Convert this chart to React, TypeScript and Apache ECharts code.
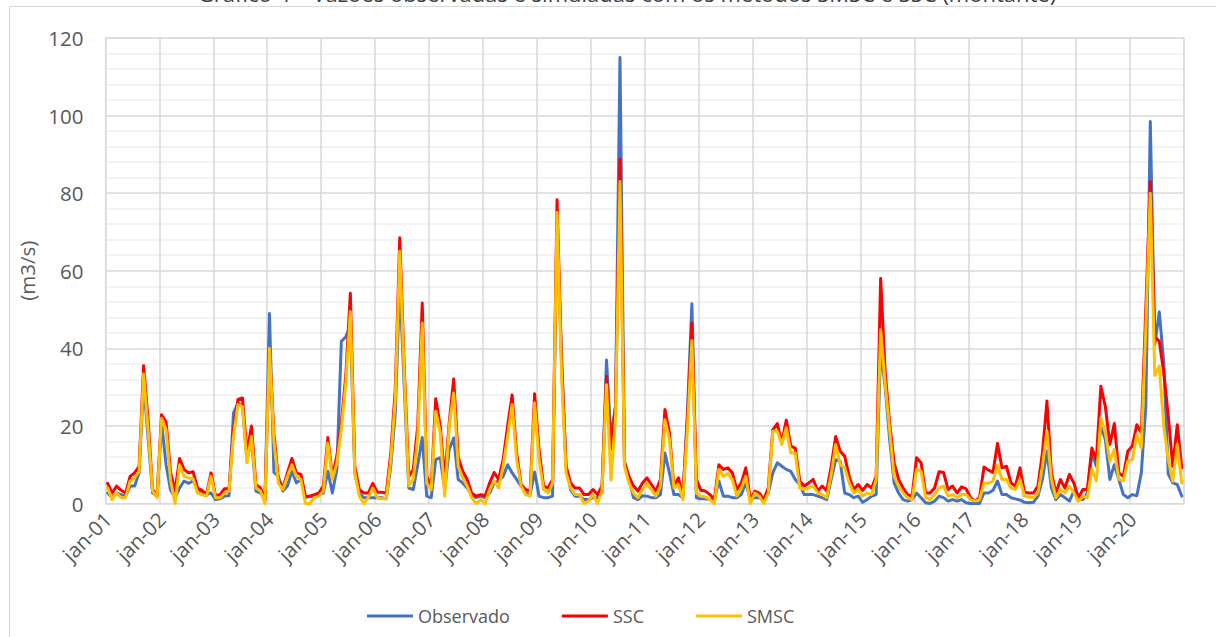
import React, { useEffect, useRef } from "react";
import * as echarts from "echarts";

// Monthly flows, Jan 2001 – Dec 2020 (m3/s)
const monthNames = ["jan", "fev", "mar", "abr", "mai", "jun", "jul", "ago", "set", "out", "nov", "dez"];
const years = Array.from({ length: 20 }, (_, k) => String(k + 1).padStart(2, "0"));
const months: string[] = [];
years.forEach((y) => monthNames.forEach((m) => months.push(`${m}-${y}`)));

const observado = [
  2.7, 1.5, 2.7, 2.3, 1.9, 4.5, 4.5, 7.9, 31, 17, 2.7, 1.9,
  20.8, 10, 3.5, 1.5, 4, 5.8, 5.2, 5.8, 4, 2.7, 2.3, 2.7,
  1, 1.2, 1.9, 2, 23.3, 25.9, 25, 11.3, 16.5, 3.2, 2.7, 1,
  49, 8, 7, 3.2, 4.5, 8.3, 5.3, 6.2, 1.5, 1.9, 1.9, 2.3,
  2.7, 8.3, 2.7, 8.8, 41.8, 43, 46, 7.9, 2.7, 1.5, 1.5, 1.5,
  1.5, 1.5, 1.2, 9.6, 23.3, 57, 30, 4, 3.6, 10, 17, 1.9,
  1.5, 11.3, 11.8, 3.6, 13.9, 16.9, 6.2, 5.3, 4, 2.3, 1.5, 1.9,
  1.5, 2.7, 5.3, 5.8, 7, 10, 7.9, 6.2, 4.5, 2.7, 2.3, 8.1,
  1.9, 1.5, 1.5, 1.9, 72, 38, 9.6, 3.6, 1.9, 1.9, 1, 1,
  1.5, 1.5, 2.7, 37, 17, 25, 115, 10.9, 6.2, 1.5, 1, 2,
  1.9, 1.5, 1.5, 2.3, 13, 7.9, 2.3, 2.3, 1.5, 23.3, 51.5, 1.5,
  1.2, 1.2, 1, 1, 5.8, 1.9, 1.9, 1.5, 1.5, 2.3, 5.3, 1,
  1.5, 1.5, 0.6, 2.7, 7.9, 10.5, 9.6, 8.8, 8.3, 6.2, 4.9, 2.3,
  2.3, 2.3, 1.9, 1.5, 1, 6.2, 11.3, 10.9, 2.7, 2.3, 1.5, 1.9,
  0.3, 1, 1.9, 2.3, 40, 30, 16.5, 5.3, 2.7, 1, 0.6, 1,
  2.7, 1.5, 0.2, 0, 0.6, 1.9, 1.5, 0.6, 1, 0.6, 1, 0.2,
  0, 0, 0, 2.7, 2.7, 3.4, 5.8, 2.3, 2.3, 1.5, 1.2, 0.9,
  0.3, 0.2, 0.3, 1.9, 6.2, 13.5, 4, 1, 2.3, 1.5, 0.6, 3.2,
  1, 1, 2.7, 13, 9.6, 20, 16.5, 6.2, 10, 6.2, 2.3, 1.5,
  2.3, 2, 7.9, 25, 98.5, 41, 49.4, 36.3, 7.6, 5.3, 4.9, 1.9,
];

const ssc = [
  5.2, 2.7, 4.5, 3.4, 2.7, 7, 7.9, 9.6, 35.5, 21.6, 3.6, 1.9,
  22.9, 21, 8, 3.2, 11.6, 8.8, 7.9, 8.2, 4, 3.4, 2.3, 7.9,
  2, 2.3, 3.8, 3.8, 19, 26.8, 27.2, 13, 20, 4.9, 4, 1,
  40, 18, 6.2, 4, 7.9, 11.6, 7.9, 7.5, 1.9, 1.9, 2.3, 2.7,
  4.5, 17, 7, 12.2, 20.8, 33, 54.2, 9.6, 3.6, 2.7, 2.7, 5.2,
  2.9, 2.9, 2.7, 13, 29.4, 68.5, 35, 7, 8.8, 20, 51.7, 7,
  4.5, 27, 20, 6.2, 20.8, 32.1, 12, 8.3, 6.2, 2.7, 1.9, 2.3,
  2, 5.3, 8, 6.2, 11.3, 20, 28, 13, 4.9, 3.6, 3.2, 28.3,
  13.9, 4.5, 4, 6.2, 78.3, 36, 9.6, 5.3, 4, 4, 2.3, 2.3,
  3.6, 2.3, 4.5, 32.8, 14, 25, 88.8, 10.5, 7, 4.5, 3.2, 5.3,
  6.6, 4.9, 3.2, 6.2, 24.2, 18.2, 4.5, 6.6, 1.9, 21.6, 46.5, 6.2,
  3.4, 3.2, 2.3, 1, 10, 8.8, 9.2, 7.9, 3.6, 5.3, 9.2, 1,
  3.2, 2.7, 1, 4, 19, 20.6, 15.6, 21.5, 14.8, 14.3, 5.8, 4.5,
  5.3, 6.2, 3.2, 4.5, 3.2, 9.6, 17.3, 13.5, 12.2, 7, 3.6, 4.9,
  3.4, 4.9, 4, 7, 58, 34, 20.8, 10.5, 6.2, 4, 2.3, 1.9,
  11.8, 10.5, 2.7, 2.7, 4, 8.2, 8, 3.6, 4.5, 2.7, 4.3, 3.8,
  1.5, 0.6, 1.5, 9.4, 8.6, 8, 15.5, 9.2, 9.6, 5.3, 4.5, 9.2,
  2.9, 2.7, 2.7, 4.5, 13, 26.4, 7.9, 2.7, 6.2, 4, 7.5, 5.3,
  1.5, 3.6, 3.6, 14.3, 11.3, 30.2, 25, 15.2, 20.6, 7.9, 7, 13.5,
  14.8, 20.3, 18.2, 50, 83, 43, 41.8, 33.7, 22.5, 9.6, 20.3, 9.2,
];

const smsc = [
  4, 1, 2.7, 1.5, 1.5, 5.8, 6.6, 8.3, 33.4, 19, 3.2, 1.5,
  22, 19, 6, 0, 10, 7, 6.6, 6.4, 2.7, 2.3, 1.9, 7,
  1.5, 1.5, 2.7, 3.2, 17.3, 25.5, 25, 10.5, 17.3, 4, 3.2, 0,
  40, 16, 5.2, 3.6, 7, 10, 7, 6.2, 0, 0, 1.5, 1.9,
  3.2, 15.6, 6.2, 10.5, 19, 31, 49.5, 7.9, 1.9, 0, 1.5, 4,
  1.5, 1.2, 1.2, 11.3, 26.8, 65, 33, 4.5, 6.2, 17, 46.5, 5.3,
  3.6, 23.8, 18.2, 1.9, 20, 28.5, 9.6, 6.6, 4.5, 1.5, 0, 1,
  0, 3.6, 5.8, 4, 9.6, 17.3, 25.5, 11.3, 4.5, 2.3, 1.9, 25.9,
  11.3, 3.6, 2.7, 5.3, 75, 33, 7.9, 4, 2.3, 2.3, 0, 0.6,
  2.3, 0, 3.2, 30.6, 6, 22, 83, 9.6, 5.3, 2.7, 1.5, 3.6,
  5.2, 3.6, 1.9, 4.5, 21.6, 16.5, 4, 4.9, 1, 19, 42, 2.7,
  1.9, 1.7, 1, 0, 8.8, 7, 7.7, 6.2, 1.9, 4, 7, 0,
  2.7, 1.9, 0, 2.7, 18.6, 18.6, 15.2, 19.5, 13, 13, 4, 3.6,
  4, 4.5, 2.7, 2.3, 1.5, 7.5, 15.2, 10, 9.2, 5.3, 2.7, 3.6,
  1.9, 2.7, 2.3, 6.2, 44.8, 31, 19, 7, 4.5, 2.7, 1.5, 1,
  8.8, 8.3, 1.5, 1, 2.3, 4, 4.5, 1.9, 2.3, 1.5, 2.3, 2.3,
  1, 0.6, 1, 5.3, 5.2, 5.8, 10, 6.2, 6.2, 4, 3.6, 6.2,
  1.9, 1.7, 1.5, 2.7, 9.6, 18.6, 6.2, 1.5, 3.6, 2.7, 4.5, 2.7,
  0.6, 1.9, 1.5, 8.8, 5.8, 22, 18.2, 10.9, 13.9, 6.2, 5.8, 10.9,
  11.3, 17.8, 14.3, 45, 80, 33, 35.4, 19.9, 11.3, 5.7, 15.2, 5.3,
];

const yTicks = { min: 0, max: 120, step: 20 };
const seriesNames = ["Observado", "SSC", "SMSC"];
const seriesColors = ["#4472C4", "#FF0000", "#FFC000"];
const chartTitle = "Gráfico 4 – Vazões observadas e simuladas com os métodos SMSC e SSC (montante)";

const FONT = '"Open Sans", sans-serif';

export default function App() {
  const ref = useRef<HTMLDivElement>(null);

  useEffect(() => {
    if (!ref.current) return;
    const chart = echarts.init(ref.current, undefined, { renderer: "svg" });
    const everyYear = (i: number) => i % 12 === 0;

    chart.setOption({
      animation: false,
      backgroundColor: "#ffffff",
      textStyle: { fontFamily: FONT },
      graphic: [
        {
          type: "rect",
          silent: true,
          z: -10,
          shape: { x: 9.5, y: 6.5, width: 1300, height: 700 },
          style: { fill: "none", stroke: "#d9d9d9", lineWidth: 1 },
        },
        {
          // caption sits above the chart frame, its upper part running off the page
          type: "text",
          silent: true,
          x: 627,
          y: 4,
          style: {
            text: chartTitle,
            fontFamily: FONT,
            fontSize: 22,
            fill: "#404040",
            align: "center",
            verticalAlign: "bottom",
          },
        },
      ],
      grid: {
        left: 105.4,
        right: 32,
        top: 38,
        bottom: 133.5,
        show: true,
        borderColor: "#d9d9d9",
        borderWidth: 1,
      },
      legend: {
        left: 362,
        top: 602,
        icon: "rect",
        itemWidth: 46,
        itemHeight: 3,
        itemGap: 52,
        textStyle: { fontFamily: FONT, fontSize: 18, color: "#595959" },
        data: seriesNames,
      },
      xAxis: {
        type: "category",
        data: months,
        boundaryGap: true,
        axisLine: { show: true, lineStyle: { color: "#d9d9d9", width: 1 } },
        axisTick: { show: false },
        axisLabel: {
          interval: everyYear,
          rotate: 45,
          margin: 12,
          fontFamily: FONT,
          fontSize: 20.5,
          color: "#595959",
        },
        splitLine: {
          show: true,
          interval: everyYear,
          lineStyle: { color: "#d9d9d9", width: 1.5 },
        },
      },
      yAxis: {
        type: "value",
        min: yTicks.min,
        max: yTicks.max,
        interval: yTicks.step,
        name: "(m3/s)",
        nameLocation: "middle",
        nameGap: 58,
        nameTextStyle: { fontFamily: FONT, fontSize: 20.5, color: "#595959" },
        axisLine: { show: false },
        axisTick: { show: false },
        axisLabel: { margin: 22, fontFamily: FONT, fontSize: 20.5, color: "#595959" },
        splitLine: { show: true, lineStyle: { color: "#d9d9d9", width: 1.5 } },
        minorTick: { show: false, splitNumber: 5 },
        minorSplitLine: { show: true, lineStyle: { color: "#efefef", width: 1.5 } },
      },
      series: [observado, ssc, smsc].map((data, k) => ({
        name: seriesNames[k],
        type: "line",
        data,
        symbol: "none",
        color: seriesColors[k],
        lineStyle: { color: seriesColors[k], width: 3, join: "round", cap: "round" },
        z: 2 + k,
      })),
    });

    return () => chart.dispose();
  }, []);

  return (
    <div
      ref={ref}
      style={{ position: "absolute", left: 0, top: 0, width: 1216, height: 637 }}
    />
  );
}
